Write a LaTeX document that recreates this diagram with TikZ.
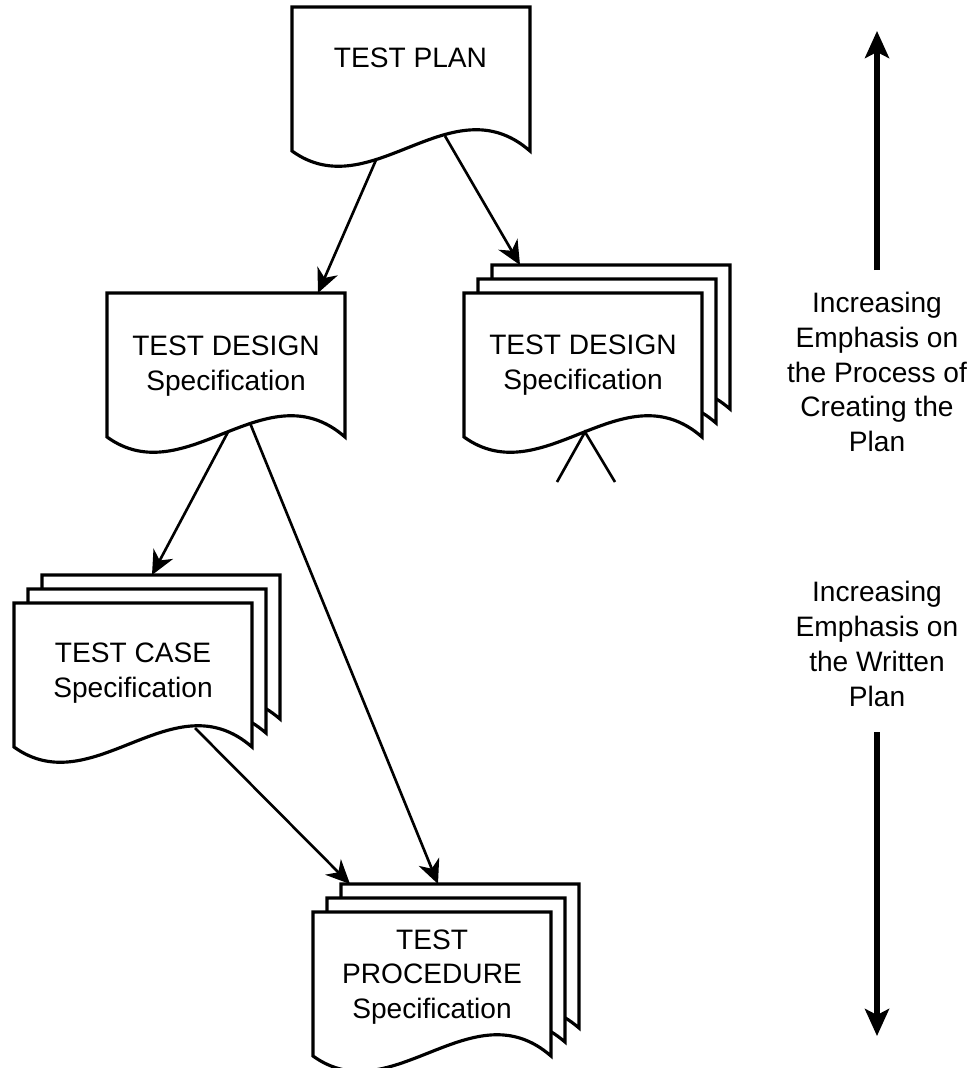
\documentclass[tikz,border=0pt]{standalone}
\usepackage{fontspec}
\setmainfont{Liberation Sans}
\usetikzlibrary{arrows.meta}
\begin{document}
\begin{tikzpicture}[x=0.2mm,y=-0.2mm,
  docline/.style={line width=1.8pt, line join=miter},
  document/.pic={\draw[docline,fill=white] (0,0) -- (238,0) -- (238,144) .. controls (159,75) and (79,201) .. (0,144) -- cycle;},
  doctext/.style={align=center, font=\fontsize{16}{19.8}\selectfont, inner sep=0pt},
  conn/.style={line width=1.5pt, -{Stealth[length=4.8mm,width=4.4mm,inset=1.5mm]}},
  plainline/.style={line width=1.5pt},
  bigarrow/.style={line width=3pt, -{Stealth[length=5.4mm,width=4.8mm,inset=1.2mm]}}
]
\useasboundingbox (0,0) rectangle (972,1068);

% TEST PLAN
\pic at (292,7) {document};
\node[doctext] (tp) at (410.5,58) {TEST PLAN};

% TEST DESIGN (single)
\pic at (107,293) {document};
\node[doctext] (td1) at (226,366) {TEST DESIGN\\Specification};

% TEST DESIGN (stack)
\pic at (492,265) {document};
\pic at (478,279) {document};
\pic at (464,293) {document};
\node[doctext] (td2) at (583,365) {TEST DESIGN\\Specification};

% TEST CASE (stack)
\pic at (42,575) {document};
\pic at (28,589) {document};
\pic at (14,603) {document};
\node[doctext] (tc) at (133,673) {TEST CASE\\Specification};

% TEST PROCEDURE (stack)
\pic at (341,884) {document};
\pic at (327,898) {document};
\pic at (313,912) {document};
\node[doctext] (tpr) at (432,977) {TEST\\PROCEDURE\\Specification};

% connector end points
\coordinate (c1a) at (376,160); \coordinate (c1b) at (318,293);
\coordinate (c2a) at (445,136); \coordinate (c2b) at (520,265);
\coordinate (c3a) at (228,432); \coordinate (c3b) at (152,575);
\coordinate (c4a) at (250,423); \coordinate (c4b) at (438,884);
\coordinate (c5a) at (195,728); \coordinate (c5b) at (350,884);
\coordinate (cr) at (585,432); \coordinate (crl) at (557,482); \coordinate (crr) at (615,482);

\draw[conn] (c1a) -- (c1b);
\draw[conn] (c2a) -- (c2b);
\draw[conn] (c3a) -- (c3b);
\draw[conn] (c4a) -- (c4b);
\draw[conn] (c5a) -- (c5b);
\draw[plainline] (crl) -- (cr) -- (crr);

% right side
\coordinate (upS) at (877,270); \coordinate (upE) at (877,31);
\coordinate (dnS) at (877,732); \coordinate (dnE) at (877,1036);
\draw[bigarrow] (upS) -- (upE);
\draw[bigarrow] (dnS) -- (dnE);
\node[doctext] (rt1) at (877,372) {Increasing\\Emphasis on\\the Process of\\Creating the\\Plan};
\node[doctext] (rt2) at (877,644) {Increasing\\Emphasis on\\the Written\\Plan};
\end{tikzpicture}
\end{document}
